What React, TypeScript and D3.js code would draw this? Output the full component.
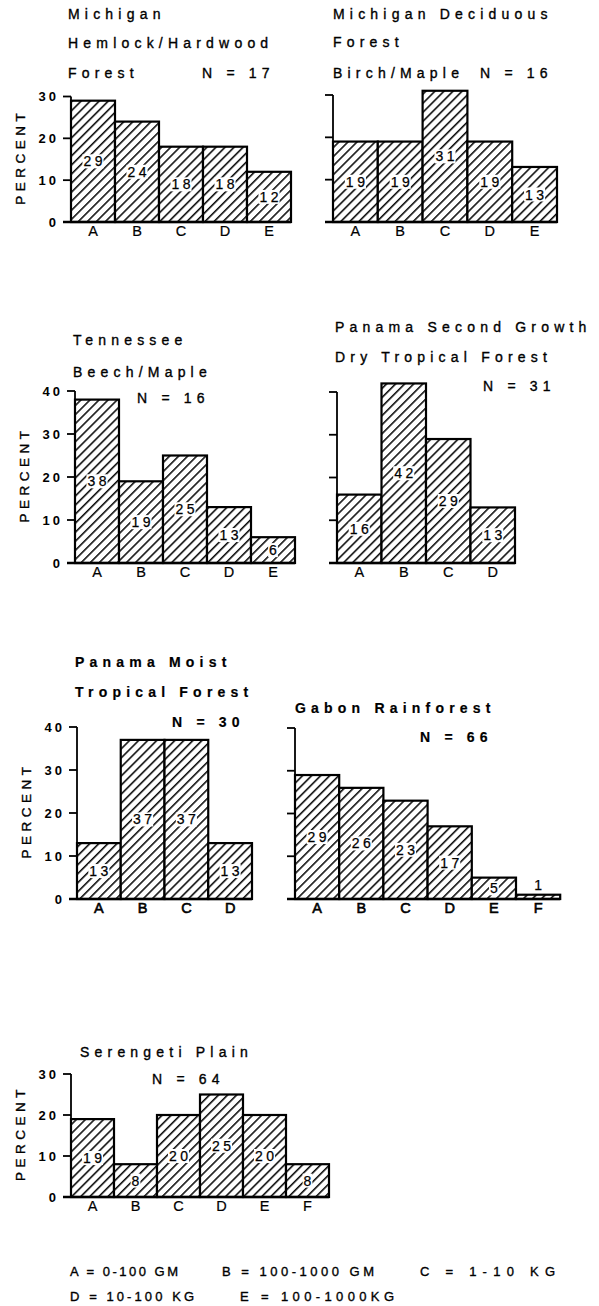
import React from 'react';
import * as d3 from 'd3';

const categories = ['A', 'B', 'C', 'D', 'E', 'F'];

const hemlockValues = [29, 24, 18, 18, 12];
const deciduousValues = [19, 19, 31, 19, 13];
const tennesseeValues = [38, 19, 25, 13, 6];
const panamaDryValues = [16, 42, 29, 13];
const panamaMoistValues = [13, 37, 37, 13];
const gabonValues = [29, 26, 23, 17, 5, 1];
const serengetiValues = [19, 8, 20, 25, 20, 8];

const ticks30 = [0, 10, 20, 30];
const ticks40 = [0, 10, 20, 30, 40];

const sampleSizes = [17, 16, 16, 31, 30, 66, 64];

const titles = [
  ['Michigan', 'Hemlock/Hardwood', 'Forest'],
  ['Michigan Deciduous', 'Forest', 'Birch/Maple'],
  ['Tennessee', 'Beech/Maple'],
  ['Panama Second Growth', 'Dry Tropical Forest'],
  ['Panama Moist', 'Tropical Forest'],
  ['Gabon Rainforest'],
  ['Serengeti Plain'],
];

const legendRow1 = ['A = 0-100 GM', 'B = 100-1000 GM', 'C = 1-10 KG'];
const legendRow2 = ['D = 10-100 KG', 'E = 100-1000KG'];

const panelValues = [
  hemlockValues,
  deciduousValues,
  tennesseeValues,
  panamaDryValues,
  panamaMoistValues,
  gabonValues,
  serengetiValues,
];
const panelTicks = [ticks30, ticks30, ticks40, ticks40, ticks40, ticks40, ticks30];

// layout (positions/styles only)
const layout = [
  { axisX: 71, y0: 222, yTop: 96.5, barW: 44, titleX: 68, titleY: [19, 48, 78], nX: 202, nY: 78, tickLabels: true, bold: false },
  { axisX: 333, y0: 222, yTop: 95, barW: 44.8, titleX: 333, titleY: [18.5, 47, 78], nX: 480, nY: 78, tickLabels: false, bold: false },
  { axisX: 75, y0: 563, yTop: 391, barW: 44, titleX: 73, titleY: [345, 377], nX: 137, nY: 403, tickLabels: true, bold: false },
  { axisX: 337, y0: 563, yTop: 392, barW: 44.5, titleX: 335, titleY: [332, 362], nX: 483, nY: 391, tickLabels: false, bold: false },
  { axisX: 77, y0: 899, yTop: 727, barW: 43.75, titleX: 75, titleY: [667, 697], nX: 172, nY: 727, tickLabels: true, bold: true },
  { axisX: 295, y0: 899, yTop: 728, barW: 44.2, titleX: 295, titleY: [713], nX: 420, nY: 742, tickLabels: false, bold: true },
  { axisX: 71, y0: 1197, yTop: 1074, barW: 43, titleX: 80, titleY: [1057], nX: 152, nY: 1084, tickLabels: true, bold: false },
];

const legendLayout1 = [
  { x: 70, len: 108 },
  { x: 222, len: 152 },
  { x: 420, len: 135 },
];
const legendLayout2 = [
  { x: 70, len: 124 },
  { x: 240, len: 154 },
];

const FONT = '"Liberation Sans", Arial, Helvetica, sans-serif';
const TITLE_FS = 14;
const TITLE_LS = 5.2;
const VAL_LS = 3.5;
const VAL_FS = 14;
const INK = 0.35; // faux-heavier stroke for text

function Panel({ idx }: { idx: number }) {
  const values = panelValues[idx];
  const ticks = panelTicks[idx];
  const L = layout[idx];
  const cats = categories.slice(0, values.length);
  const x = d3
    .scaleBand<string>()
    .domain(cats)
    .range([L.axisX, L.axisX + L.barW * cats.length])
    .padding(0);
  const y = d3
    .scaleLinear()
    .domain([0, d3.max(ticks) as number])
    .range([L.y0, L.yTop]);
  const weight = L.bold ? 'bold' : 'normal';
  const xEnd = L.axisX + L.barW * cats.length;

  return (
    <g fontFamily={FONT}>
      {titles[idx].map((t, i) => (
        <text
          key={i}
          x={L.titleX}
          y={L.titleY[i]}
          fontSize={TITLE_FS}
          letterSpacing={TITLE_LS}
          fontWeight={weight}
          stroke="#000"
          strokeWidth={L.bold ? 0.2 : INK}
        >
          {t}
        </text>
      ))}
      <text
        x={L.nX}
        y={L.nY}
        fontSize={TITLE_FS}
        letterSpacing={TITLE_LS}
        fontWeight={weight}
        stroke="#000"
        strokeWidth={L.bold ? 0.2 : INK}
      >
        {`N = ${sampleSizes[idx]}`}
      </text>

      {/* bars */}
      {values.map((v, i) => (
        <rect
          key={i}
          x={x(cats[i])}
          y={y(v)}
          width={x.bandwidth()}
          height={L.y0 - y(v)}
          fill="url(#hatch)"
          stroke="#000"
          strokeWidth={2.2}
        />
      ))}

      {/* value labels */}
      {values.map((v, i) => {
        const s = String(v);
        const h = L.y0 - y(v);
        const cx = (x(cats[i]) as number) + x.bandwidth() / 2;
        const cy = h < 15 ? y(v) - 10 : y(v / 2);
        const w = s.length * 7.8 + (s.length - 1) * VAL_LS + 2;
        return (
          <g key={i}>
            <rect x={cx - w / 2} y={cy - 7} width={w} height={14} fill="#fff" />
            <text
              x={cx + VAL_LS / 2}
              y={cy}
              dy="0.36em"
              textAnchor="middle"
              fontSize={VAL_FS}
              letterSpacing={VAL_LS}
              stroke="#000"
              strokeWidth={0.25}
            >
              {s}
            </text>
          </g>
        );
      })}

      {/* axis */}
      <line x1={L.axisX} x2={L.axisX} y1={y(d3.max(ticks) as number)} y2={L.y0} stroke="#000" strokeWidth={1.8} />
      {ticks.map((t) => (
        <line
          key={t}
          x1={L.axisX - 8}
          x2={t === 0 ? xEnd : L.axisX}
          y1={y(t)}
          y2={y(t)}
          stroke="#000"
          strokeWidth={t === 0 ? 2.4 : 1.8}
        />
      ))}
      {L.tickLabels &&
        ticks.map((t) => (
          <text
            key={t}
            x={L.axisX - 15 + 3}
            y={y(t)}
            dy="0.36em"
            textAnchor="end"
            fontSize={13}
            letterSpacing={3}
            fontWeight="bold"
          >
            {t}
          </text>
        ))}
      {L.tickLabels && (
        <text
          transform={`translate(${L.axisX - 51},${(L.y0 + L.yTop) / 2}) rotate(-90)`}
          textAnchor="middle"
          dy="0.36em"
          dx={2.5}
          fontSize={13.5}
          letterSpacing={4.5}
          stroke="#000"
          strokeWidth={INK}
        >
          PERCENT
        </text>
      )}

      {/* category labels */}
      {cats.map((c) => (
        <text
          key={c}
          x={(x(c) as number) + x.bandwidth() / 2}
          y={L.y0 + 14}
          textAnchor="middle"
          fontSize={14.5}
          stroke="#000"
          strokeWidth={L.bold ? 0.6 : 0.2}
        >
          {c}
        </text>
      ))}
    </g>
  );
}

export default function App() {
  return (
    <svg
      width={599}
      height={1306}
      viewBox="0 0 599 1306"
      style={{ position: 'absolute', left: 0, top: 0, background: '#fff' }}
    >
      <defs>
        <pattern id="hatch" patternUnits="userSpaceOnUse" width={6.4} height={6.4} patternTransform="rotate(45)">
          <rect width={6.4} height={6.4} fill="#fff" />
          <line x1={0.8} y1={0} x2={0.8} y2={6.4} stroke="#000" strokeWidth={1.5} />
        </pattern>
      </defs>
      <rect width={599} height={1306} fill="#fff" />
      {panelValues.map((_, i) => (
        <Panel key={i} idx={i} />
      ))}
      <g fontFamily={FONT} fontSize={13} stroke="#000" strokeWidth={INK}>
        {legendRow1.map((t, i) => (
          <text key={t} x={legendLayout1[i].x} y={1276} textLength={legendLayout1[i].len} lengthAdjust="spacing">
            {t}
          </text>
        ))}
        {legendRow2.map((t, i) => (
          <text key={t} x={legendLayout2[i].x} y={1301} textLength={legendLayout2[i].len} lengthAdjust="spacing">
            {t}
          </text>
        ))}
      </g>
    </svg>
  );
}
